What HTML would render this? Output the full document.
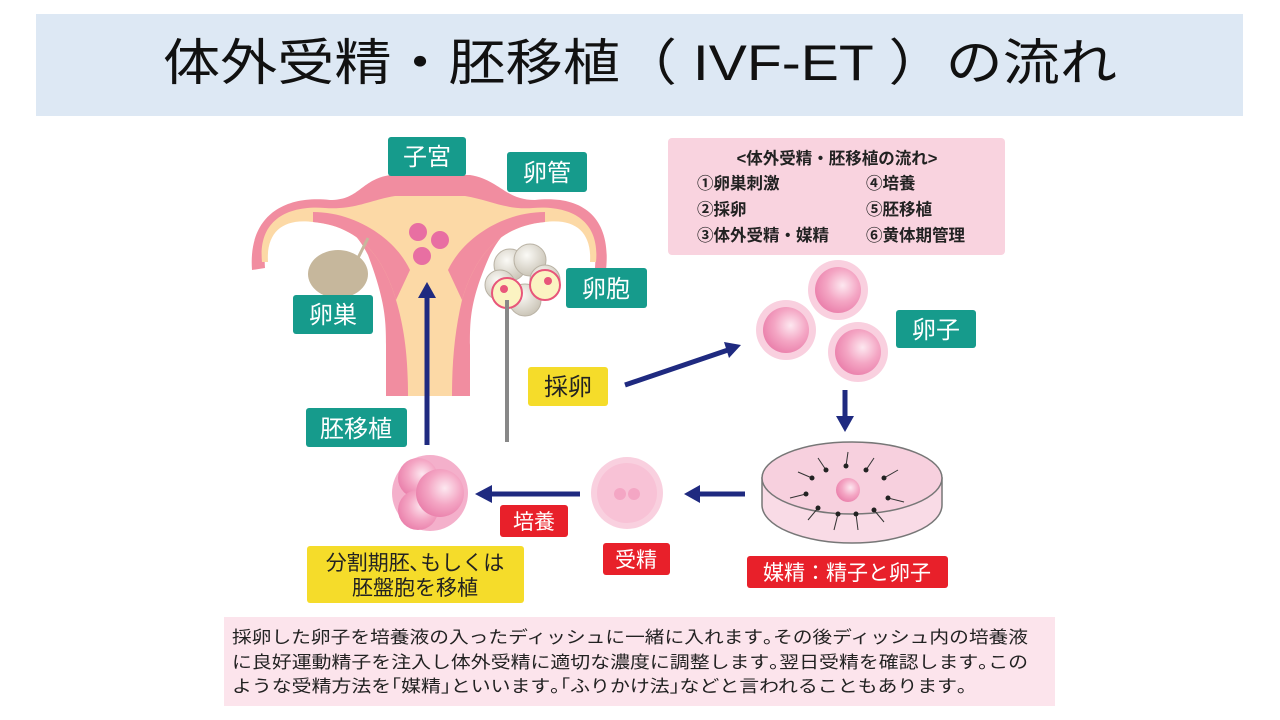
<!DOCTYPE html>
<html><head><meta charset="utf-8"><style>
html,body{margin:0;padding:0;background:#fff;}
svg{display:block;font-family:"Liberation Sans","Noto Sans CJK JP",sans-serif;}
</style></head><body>
<svg width="1280" height="720" viewBox="0 0 1280 720" xmlns="http://www.w3.org/2000/svg">
<defs>
<radialGradient id="egg" cx="0.6" cy="0.4" r="0.7"><stop offset="0" stop-color="#fde8f0"/><stop offset="0.5" stop-color="#f4a6c4"/><stop offset="1" stop-color="#e878a6"/></radialGradient>
<radialGradient id="fol" cx="0.4" cy="0.35" r="0.7"><stop offset="0" stop-color="#fbfaf6"/><stop offset="1" stop-color="#c8c2b4"/></radialGradient>
</defs>
<rect x="36" y="14" width="1207" height="102" fill="#dde8f4"/>
<text x="640" y="80" font-size="50" text-anchor="middle" fill="#111" textLength="954" lengthAdjust="spacingAndGlyphs">体外受精・胚移植（ IVF-ET ）の流れ</text>

<!-- info box -->
<rect x="668" y="138" width="337" height="117" rx="4" fill="#f9d3df"/>
<g font-size="16.5" font-weight="bold" fill="#222">
<text x="837" y="164" text-anchor="middle">&lt;体外受精・胚移植の流れ&gt;</text>
<text x="697" y="189">①卵巣刺激</text><text x="866" y="189">④培養</text>
<text x="697" y="215">②採卵</text><text x="866" y="215">⑤胚移植</text>
<text x="697" y="241">③体外受精・媒精</text><text x="866" y="241">⑥黄体期管理</text>
</g>

<!-- uterus -->
<path d="M252 270 C248 215 285 195 330 200 C360 200 360 180 390 175 L470 175 C500 180 505 200 535 200 C580 195 612 215 606 270 L595 268 C598 230 580 212 545 215 C515 218 500 235 490 255 C470 300 470 320 470 345 L470 396 L386 396 L386 345 C386 320 385 300 368 255 C358 235 343 218 313 215 C280 212 262 230 265 268 Z" fill="#f18da0"/>
<path d="M262 262 C258 222 285 205 325 208 C355 210 370 200 395 196 L465 196 C490 200 505 210 533 208 C573 205 600 222 596 262 L590 262 C592 232 575 218 545 222 C500 226 475 255 462 300 C455 330 452 360 452 396 L408 396 C408 360 405 330 396 300 C383 255 358 226 313 222 C283 218 266 232 268 262 Z" fill="#fcd9a6"/>
<path d="M396 300 C383 255 358 226 313 222 L313 212 C355 212 395 238 410 270 Z M462 300 C475 255 500 226 545 222 L545 212 C503 212 463 238 448 270 Z" fill="#f18da0"/>
<ellipse cx="338" cy="274" rx="30" ry="24" fill="#c6b79c"/>
<line x1="358" y1="258" x2="368" y2="238" stroke="#c6b79c" stroke-width="3"/>
<g fill="#e86fa2"><circle cx="418" cy="232" r="9"/><circle cx="440" cy="240" r="9"/><circle cx="422" cy="256" r="9"/></g>
<g fill="url(#fol)" stroke="#b9b2a4" stroke-width="1">
<circle cx="510" cy="265" r="16"/><circle cx="530" cy="260" r="16"/><circle cx="545" cy="280" r="15"/><circle cx="500" cy="285" r="15"/><circle cx="525" cy="300" r="16"/></g>
<circle cx="507" cy="293" r="15" fill="#fbf3c2" stroke="#e8567a" stroke-width="2"/>
<circle cx="545" cy="285" r="15" fill="#fbf3c2" stroke="#e8567a" stroke-width="2"/>
<circle cx="504" cy="289" r="4" fill="#e8567a"/><circle cx="548" cy="281" r="4" fill="#e8567a"/>

<!-- labels teal -->
<g fill="#169b8c"><rect x="388" y="137" width="78" height="39" rx="3"/><rect x="507" y="152" width="80" height="40" rx="3"/><rect x="293" y="295" width="80" height="39" rx="3"/><rect x="566" y="268" width="81" height="40" rx="3"/><rect x="306" y="408" width="101" height="39" rx="3"/><rect x="896" y="310" width="80" height="38" rx="3"/></g>
<g fill="#fff" font-size="24" text-anchor="middle">
<text x="427" y="165">子宮</text><text x="547" y="181">卵管</text><text x="333" y="323">卵巣</text><text x="606" y="297">卵胞</text><text x="356" y="437">胚移植</text><text x="936" y="338">卵子</text></g>

<!-- needles and arrows -->
<line x1="507" y1="300" x2="507" y2="442" stroke="#888" stroke-width="4"/>
<g fill="#1f2a80" stroke="#1f2a80">
<line x1="427" y1="445" x2="427" y2="296" stroke-width="5"/><polygon points="418,298 436,298 427,282" stroke="none"/>
<line x1="625" y1="385" x2="728" y2="350" stroke-width="5"/><polygon points="724,342 741,345 729,358" stroke="none"/>
<line x1="845" y1="390" x2="845" y2="418" stroke-width="5"/><polygon points="836,416 854,416 845,432" stroke="none"/>
<line x1="745" y1="494" x2="698" y2="494" stroke-width="5"/><polygon points="700,485 700,503 684,494" stroke="none"/>
<line x1="580" y1="494" x2="490" y2="494" stroke-width="5"/><polygon points="492,485 492,503 475,494" stroke="none"/>
</g>

<!-- eggs -->
<g fill="#f9d0df"><circle cx="838" cy="290" r="30"/><circle cx="786" cy="330" r="30"/><circle cx="858" cy="352" r="30"/></g>
<g fill="url(#egg)"><circle cx="838" cy="290" r="23"/><circle cx="786" cy="330" r="23"/><circle cx="858" cy="352" r="23"/></g>
<circle cx="627" cy="493" r="36" fill="#f9d0df"/><circle cx="627" cy="493" r="30" fill="#f8c2d6"/>
<circle cx="620" cy="494" r="6" fill="#f4a6c4"/><circle cx="634" cy="494" r="6" fill="#f4a6c4"/>
<circle cx="430" cy="493" r="38" fill="#f4b0cb"/>
<g fill="url(#egg)"><circle cx="418" cy="478" r="20"/><circle cx="418" cy="510" r="20"/><circle cx="440" cy="493" r="24"/></g>

<!-- dish -->
<path d="M762 478 L762 505 A90 38 0 0 0 942 505 L942 478 Z" fill="#f9dbe6" stroke="#777" stroke-width="1.5"/>
<ellipse cx="852" cy="478" rx="90" ry="36" fill="#f7d0de" stroke="#777" stroke-width="1.5"/>
<circle cx="848" cy="490" r="12" fill="url(#egg)"/>
<g stroke="#333" stroke-width="1" fill="none">
<path d="M812 478 l-14 -6"/><path d="M826 470 l-8 -12"/><path d="M846 466 l2 -14"/><path d="M866 470 l8 -12"/><path d="M884 478 l14 -8"/><path d="M888 498 l16 4"/><path d="M874 510 l10 12"/><path d="M856 514 l2 16"/><path d="M838 514 l-4 16"/><path d="M818 508 l-10 12"/><path d="M806 494 l-16 4"/></g>
<g fill="#222"><circle cx="812" cy="478" r="2.5"/><circle cx="826" cy="470" r="2.5"/><circle cx="846" cy="466" r="2.5"/><circle cx="866" cy="470" r="2.5"/><circle cx="884" cy="478" r="2.5"/><circle cx="888" cy="498" r="2.5"/><circle cx="874" cy="510" r="2.5"/><circle cx="856" cy="514" r="2.5"/><circle cx="838" cy="514" r="2.5"/><circle cx="818" cy="508" r="2.5"/><circle cx="806" cy="494" r="2.5"/></g>

<!-- yellow / red labels -->
<g fill="#f5dc2a"><rect x="528" y="367" width="80" height="39" rx="3"/><rect x="307" y="546" width="217" height="57" rx="3"/></g>
<g fill="#e8202a"><rect x="500" y="505" width="68" height="32" rx="3"/><rect x="603" y="543" width="67" height="32" rx="3"/><rect x="747" y="556" width="201" height="32" rx="3"/></g>
<g font-size="22" text-anchor="middle" fill="#222">
<text x="568" y="395" font-size="24">採卵</text>
<text x="415" y="570" font-size="21">分割期胚､もしくは</text>
<text x="415" y="595" font-size="21">胚盤胞を移植</text></g>
<g font-size="21" text-anchor="middle" fill="#fff">
<text x="534" y="529">培養</text><text x="636" y="567">受精</text><text x="847" y="580">媒精：精子と卵子</text></g>

<!-- bottom text -->
<rect x="224" y="617" width="831" height="89" fill="#fce4ec"/>
<g font-size="17" fill="#222">
<text x="232" y="643" textLength="796" lengthAdjust="spacingAndGlyphs">採卵した卵子を培養液の入ったディッシュに一緒に入れます｡その後ディッシュ内の培養液</text>
<text x="232" y="668" textLength="796" lengthAdjust="spacingAndGlyphs">に良好運動精子を注入し体外受精に適切な濃度に調整します｡翌日受精を確認します｡この</text>
<text x="232" y="692" textLength="735" lengthAdjust="spacingAndGlyphs">ような受精方法を｢媒精｣といいます｡｢ふりかけ法｣などと言われることもあります｡</text>
</g>
</svg>
</body></html>
